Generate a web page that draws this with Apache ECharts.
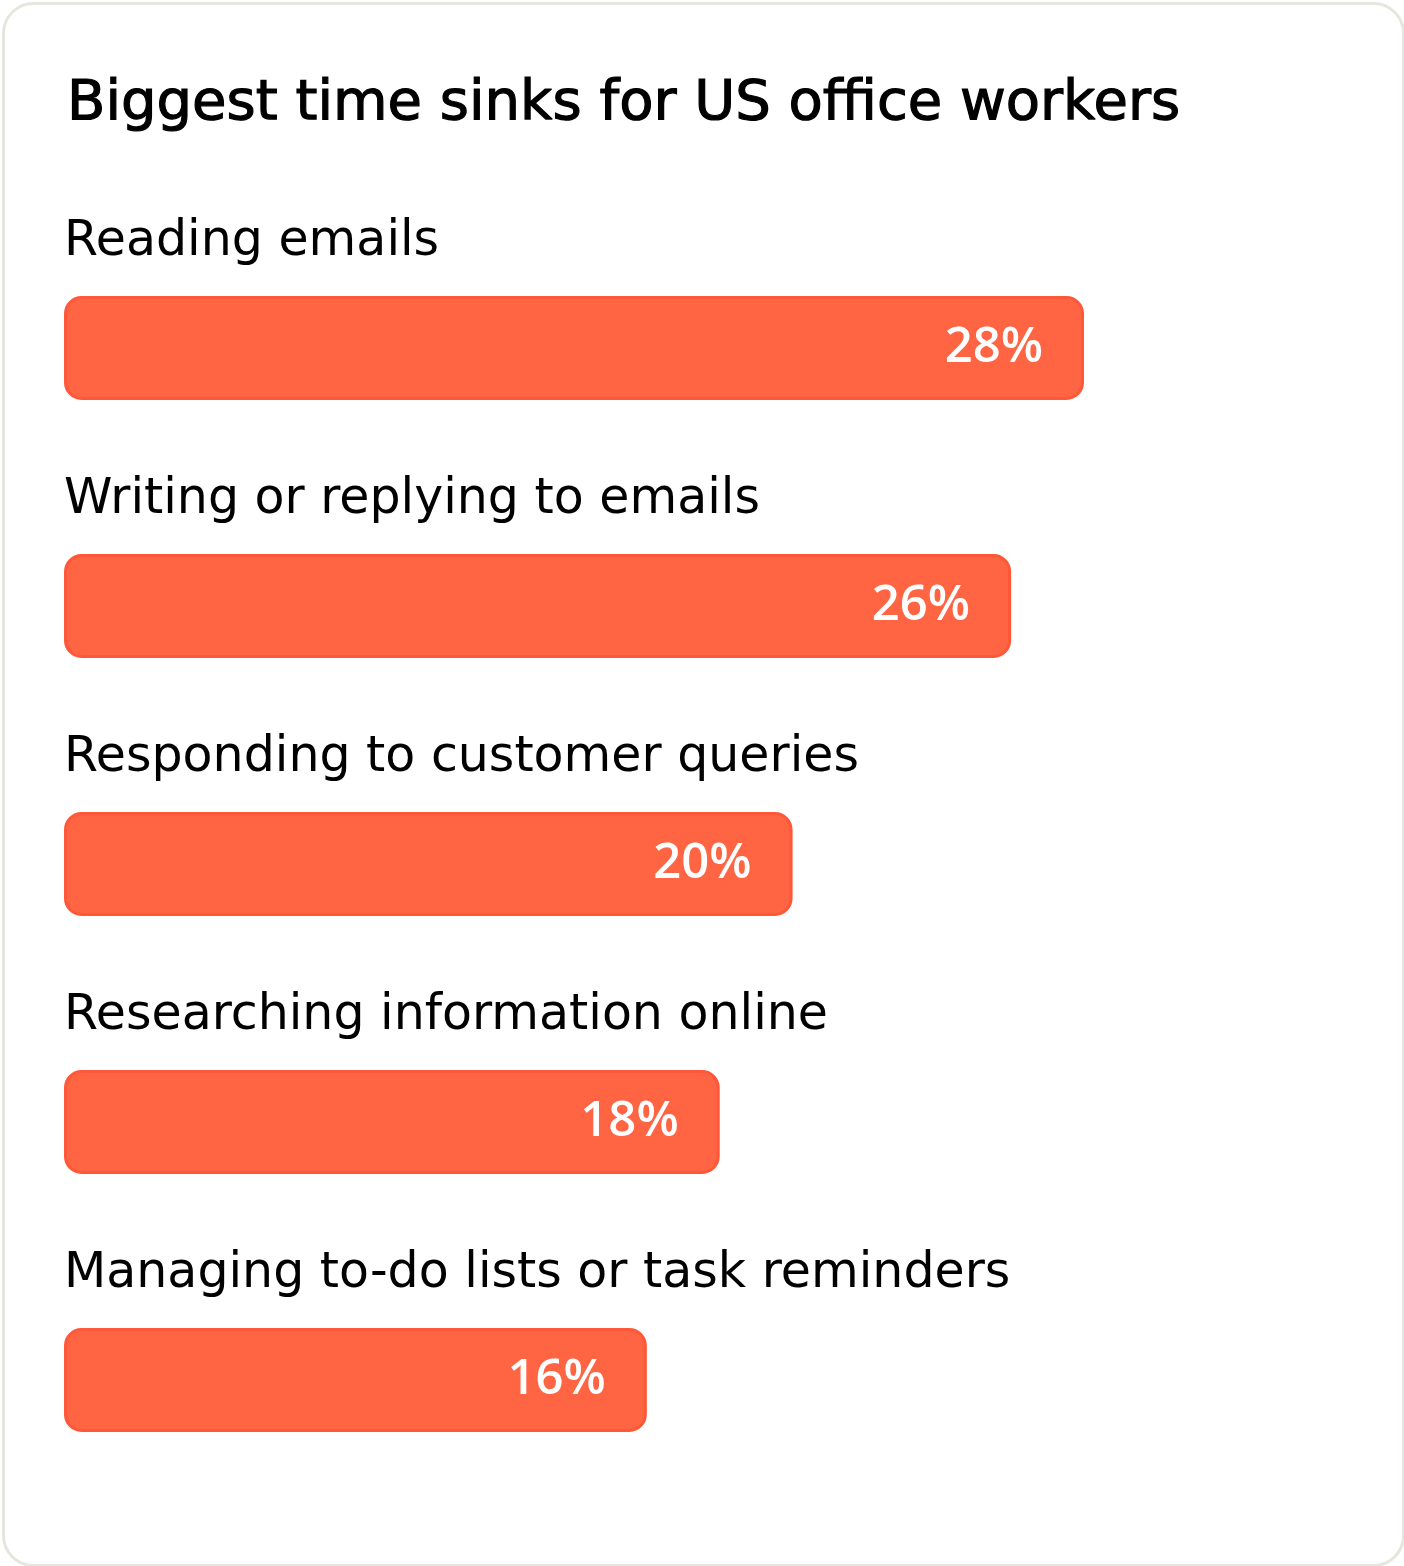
<!DOCTYPE html>
<html>
<head>
<meta charset="utf-8">
<script src="https://cdn.jsdelivr.net/npm/echarts@6/dist/echarts.min.js"></script>
<style>
  html, body { margin: 0; padding: 0; background: #fff; }
  #main { width: 1404px; height: 1566px; }
</style>
</head>
<body>
<div id="main"></div>
<script>
var titleText = 'Biggest time sinks for US office workers';
var categories = [
  'Reading emails',
  'Writing or replying to emails',
  'Responding to customer queries',
  'Researching information online',
  'Managing to-do lists or task reminders'
];
var values = [28, 26, 20, 18, 16];

var FONT = '"DejaVu Sans", sans-serif';
var myChart = echarts.init(document.getElementById('main'));

var option = {
  backgroundColor: '#fff',
  animation: false,
  title: {
    text: titleText,
    left: 62,
    top: 71,
    textStyle: {
      fontFamily: FONT, fontSize: 56, fontWeight: 'normal', color: '#000',
      textBorderColor: '#000', textBorderWidth: 1.2
    }
  },
  graphic: [{
    type: 'rect',
    left: 1, top: 1,
    shape: { width: 1400, height: 1562, r: 30 },
    style: { fill: 'none', stroke: '#e6e6df', lineWidth: 3 },
    z: 100
  }],
  grid: { left: 64, right: 65, top: 219, height: 1290, containLabel: false },
  xAxis: {
    type: 'value', min: 0, max: 35,
    show: false
  },
  yAxis: {
    type: 'category',
    inverse: true,
    data: categories,
    axisLine: { show: false },
    axisTick: { show: false },
    splitLine: { show: false },
    axisLabel: {
      inside: true,
      margin: 0,
      align: 'left',
      verticalAlign: 'bottom',
      padding: [0, 0, 81, 0],
      fontFamily: FONT,
      fontSize: 49,
      color: '#000'
    },
    z: 10
  },
  series: [{
    type: 'bar',
    data: values,
    barWidth: 104,
    itemStyle: {
      color: '#ff6443',
      borderColor: '#ff5838',
      borderWidth: 3,
      borderRadius: 16
    },
    label: {
      show: true,
      position: 'insideRight',
      distance: 41,
      formatter: '{c}%',
      fontFamily: '"Open Sans", sans-serif',
      fontSize: 49,
      fontWeight: 600,
      color: '#fff'
    }
  }]
};

myChart.setOption(option);
</script>
</body>
</html>
